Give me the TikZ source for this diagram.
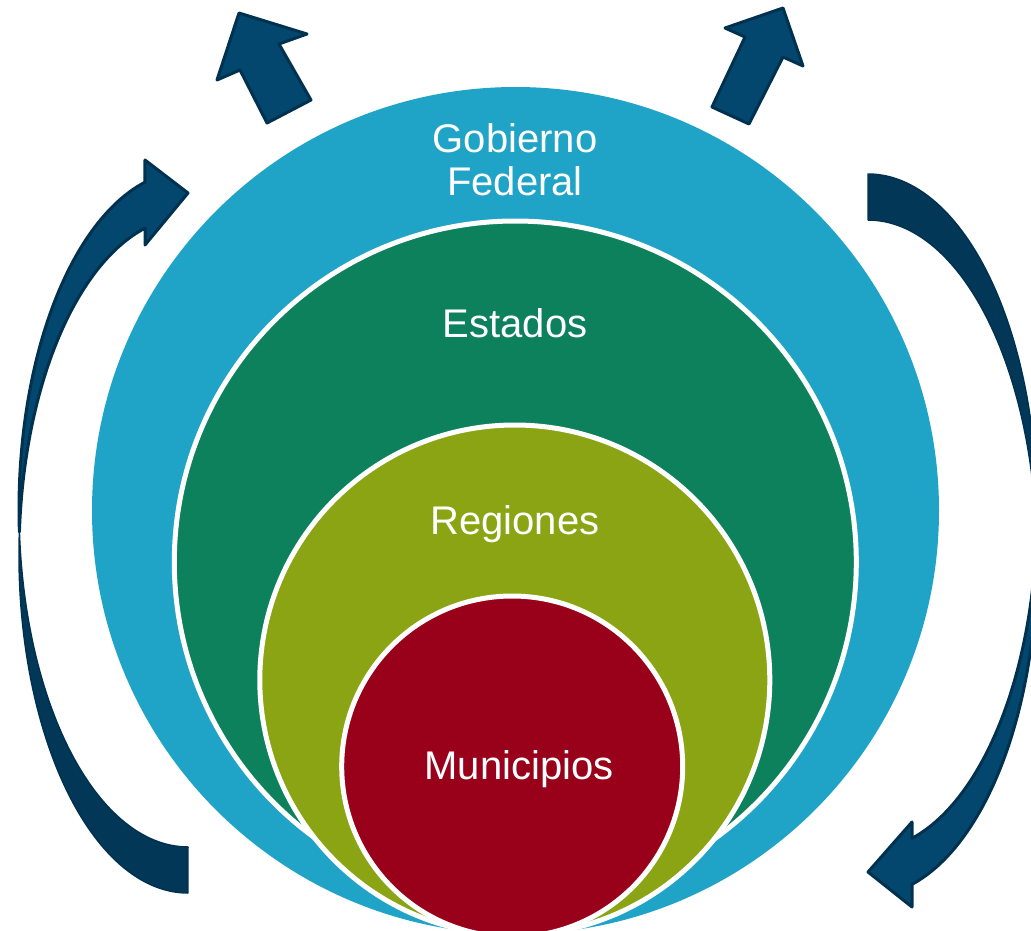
\documentclass[tikz,border=0pt]{standalone}
\usepackage{fontspec}
\setmainfont{Liberation Sans}
\definecolor{cblue}{RGB}{31,163,199}
\definecolor{cgreen}{RGB}{13,128,92}
\definecolor{colive}{RGB}{139,164,19}
\definecolor{cred}{RGB}{153,0,25}
\definecolor{afront}{RGB}{3,70,110}
\definecolor{aback}{RGB}{2,55,87}
\definecolor{aline}{RGB}{0,50,80}
\begin{document}
\begin{tikzpicture}[x=1pt,y=-1pt,
  ring/.style={draw=white,line width=5pt},
  lbl/.style={text=white,font=\fontsize{40}{46}\selectfont,anchor=base,inner sep=0pt},
  arrowfront/.style={fill=afront,draw=aline,line width=3pt,line join=round},
  arrowback/.style={fill=aback,draw=aline,line width=1.5pt,line join=round}]
\useasboundingbox (0,0) rectangle (1031,930);
\clip (0,0) rectangle (1031,930);
\fill[white] (0,0) rectangle (1031,930);
% nested circles
\fill[cblue] (515.5,510.5) circle[radius=423.5pt];
\filldraw[fill=cgreen,ring] (515.3,562) circle[radius=341pt];
\filldraw[fill=colive,ring] (514.8,680) circle[radius=255pt];
\filldraw[fill=cred,ring] (512.2,766.5) circle[radius=170.5pt];
% labels
\node[lbl] (gob) at (515,152) {Gobierno};
\node[lbl] (fed) at (515,195) {Federal};
\node[lbl] (est) at (515,337) {Estados};
\node[lbl] (reg) at (515,534) {Regiones};
\node[lbl] (mun) at (519,779) {Municipios};
% straight arrows
\filldraw[arrowfront] (311,100) -- (279,44) -- (307,34) -- (239,13) -- (217,80) -- (240,70) -- (267,123) -- cycle;
\filldraw[arrowfront] (712,107) -- (745,37) -- (725,28) -- (783,8) -- (803,66) -- (783,57) -- (749,124) -- cycle;
% left curved arrow
\filldraw[arrowback] plot[domain=0:1,samples=60] ({188+169*cos(176.1+93.9*\x)},{555-338*sin(176.1+93.9*\x)})
  -- plot[domain=0:1,samples=60] ({188+169*cos(270-86.1*\x)},{509-338*sin(270-86.1*\x)}) -- cycle;
\filldraw[arrowfront] plot[domain=0:1,samples=60] ({188+169*cos(183.9-79.16*\x)},{509-338*sin(183.9-79.16*\x)})
  -- (145,160) -- (188,193) -- (145,245)
  -- plot[domain=0:1,samples=60] ({188+169*cos(104.74+71.36*\x)},{555-338*sin(104.74+71.36*\x)}) -- cycle;
% right curved arrow
\filldraw[arrowback] plot[domain=0:1,samples=60] ({868+169*cos(90-93.9*\x)},{512-338*sin(90-93.9*\x)})
  -- plot[domain=0:1,samples=60] ({868+169*cos(3.9+86.1*\x)},{558-338*sin(3.9+86.1*\x)}) -- cycle;
\filldraw[arrowfront] plot[domain=0:1,samples=60] ({868+169*cos(-3.9-71*\x)},{558-338*sin(-3.9-71*\x)})
  -- (912,907) -- (868,872) -- (912,822)
  -- plot[domain=0:1,samples=60] ({868+169*cos(-74.9+71*\x)},{512-338*sin(-74.9+71*\x)}) -- cycle;
\end{tikzpicture}
\end{document}
